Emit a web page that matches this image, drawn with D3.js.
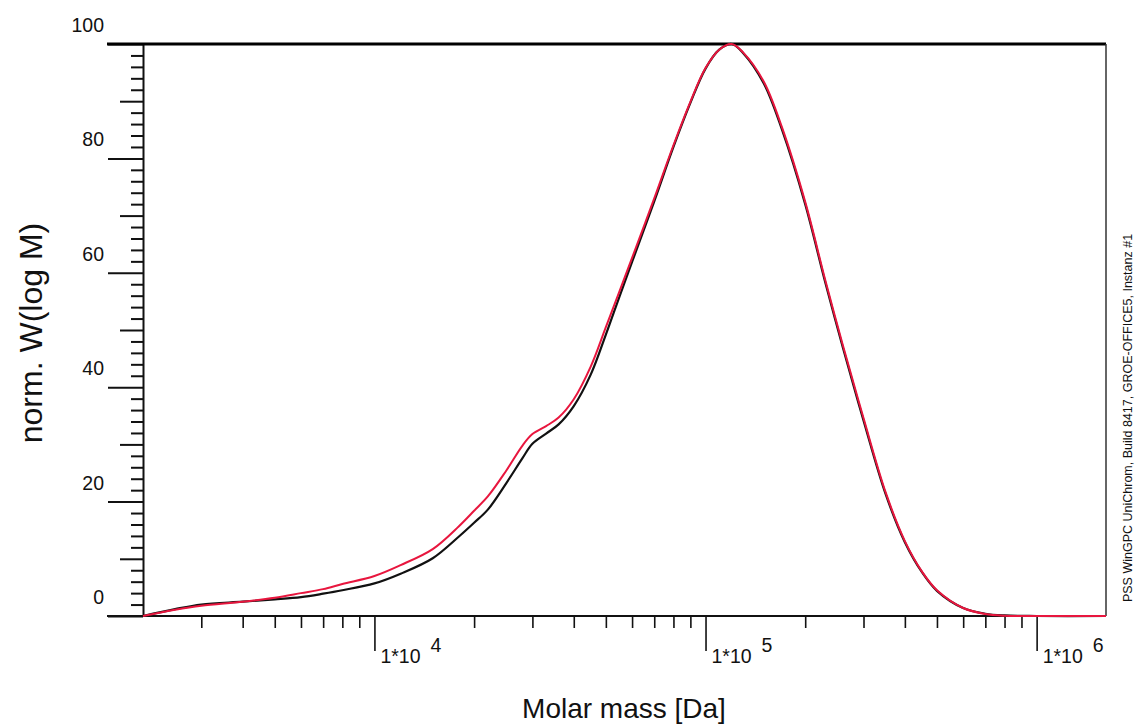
<!DOCTYPE html>
<html>
<head>
<meta charset="utf-8">
<script src="https://cdn.jsdelivr.net/npm/d3@7"></script>
<style>
  html, body { margin: 0; padding: 0; background: #fff; }
  #chart { width: 1139px; height: 724px; }
  text { font-family: "Liberation Sans", Arial, sans-serif; fill: #111; }
</style>
</head>
<body>
<div id="chart"></div>
<script>
// molar mass grid [Da] and the two normalized distributions
const molarMass = [2000, 2500, 3000, 4000, 5000, 6000, 7000, 8000, 10000, 12000, 15000, 18000, 20000, 22000,
  25000, 28000, 30000, 33000, 36000, 40000, 45000, 50000, 55000, 60000, 70000, 80000, 90000, 100000,
  110000, 120000, 130000, 150000, 170000, 200000, 230000, 260000, 300000, 350000, 400000, 450000,
  500000, 600000, 700000, 800000, 1000000, 1620000];
const blackW = [0, 1.2, 2.0, 2.5, 2.9, 3.3, 3.9, 4.5, 5.7, 7.4, 10.1, 13.9, 16.3, 18.6,
  23.2, 27.6, 30.1, 31.9, 33.5, 36.7, 42.2, 49.2, 55.9, 61.9, 72.5, 82.0, 89.7, 95.7,
  99.0, 100, 98.4, 93.1, 85.1, 72.0, 58.3, 46.9, 34.2, 21.3, 12.9, 7.7,
  4.4, 1.4, 0.4, 0.1, 0, 0];
const redW = [0, 1.1, 1.8, 2.5, 3.2, 4.0, 4.7, 5.6, 7.0, 8.9, 11.7, 15.7, 18.4, 20.9,
  25.4, 29.8, 31.8, 33.2, 34.7, 37.9, 43.6, 50.5, 56.8, 62.6, 73.0, 82.3, 89.9, 95.8,
  99.0, 100, 98.5, 93.4, 85.5, 72.4, 58.7, 47.3, 34.6, 21.6, 13.1, 7.8,
  4.5, 1.4, 0.35, 0.05, 0, 0];

const yLabels = [0, 20, 40, 60, 80, 100];
const decades = [1e4, 1e5, 1e6];
const exponents = ['4', '5', '6'];
const minorMass = [3000, 4000, 5000, 6000, 7000, 8000, 9000,
  20000, 30000, 40000, 50000, 60000, 70000, 80000, 90000,
  200000, 300000, 400000, 500000, 600000, 700000, 800000, 900000];
const footer = 'PSS WinGPC UniChrom, Build 8417, GROE-OFFICE5, Instanz #1';

const W = 1139, H = 724;
const svg = d3.select('#chart').append('svg').attr('width', W).attr('height', H);

const x = d3.scaleLog().domain([2000, 1620000]).range([143, 1106]);
const y = d3.scaleLinear().domain([0, 100]).range([616, 44]);

// y axis: minor every 2, medium every 10, long every 20
const yAxis = svg.append('g').attr('transform', `translate(${x.range()[0]},0)`)
  .call(d3.axisLeft(y).tickValues(d3.range(0, 101, 2)).tickFormat('').tickSizeOuter(0));
yAxis.select('.domain').attr('stroke', '#111').attr('stroke-width', 2);
yAxis.selectAll('.tick line')
  .attr('stroke', '#111').attr('stroke-width', 2)
  .attr('x2', d => d % 20 === 0 ? -35 : d % 10 === 0 ? -23 : -12);

svg.append('g').selectAll('text').data(yLabels).enter().append('text')
  .attr('x', 104).attr('y', d => y(d) - 12)
  .attr('text-anchor', 'end').attr('font-size', 19.5)
  .text(d => d);

// x axis
const xAxis = svg.append('g').attr('transform', `translate(0,${y(0)})`)
  .call(d3.axisBottom(x).tickValues(minorMass.concat(decades)).tickFormat('').tickSizeOuter(0));
xAxis.select('.domain').remove();
xAxis.selectAll('.tick line')
  .attr('stroke', '#111').attr('stroke-width', 1.6)
  .attr('y2', d => decades.includes(d) ? 35 : 12);

svg.append('line').attr('x1', 107).attr('x2', 1106).attr('y1', y(0)).attr('y2', y(0))
  .attr('stroke', '#111').attr('stroke-width', 2);
svg.append('line').attr('x1', 107).attr('x2', 1106).attr('y1', y(100)).attr('y2', y(100))
  .attr('stroke', '#000').attr('stroke-width', 3);
svg.append('line').attr('x1', 1106).attr('x2', 1106).attr('y1', y(100)).attr('y2', y(0))
  .attr('stroke', '#333').attr('stroke-width', 1.5);

const dec = svg.append('g').selectAll('g').data(decades).enter().append('g')
  .attr('transform', d => `translate(${x(d)},0)`);
dec.append('text').attr('x', 6).attr('y', 663).attr('font-size', 19.5).text('1*10');
dec.append('text').attr('x', 56).attr('y', 652).attr('font-size', 19.5).text((d, i) => exponents[i]);

// curves
const line = d3.line().x((d, i) => x(molarMass[i])).y(d => y(d)).curve(d3.curveCatmullRom.alpha(0.5));
svg.append('path').datum(blackW).attr('d', line)
  .attr('fill', 'none').attr('stroke', '#111').attr('stroke-width', 2.2);
svg.append('path').datum(redW).attr('d', line)
  .attr('fill', 'none').attr('stroke', '#e8163e').attr('stroke-width', 2);

// titles
svg.append('text').attr('x', 624).attr('y', 718).attr('text-anchor', 'middle')
  .attr('font-size', 28).text('Molar mass [Da]');
svg.append('text').attr('transform', 'translate(42,333) rotate(-90)')
  .attr('text-anchor', 'middle').attr('font-size', 32).text('norm. W(log M)');
svg.append('text').attr('transform', 'translate(1132,418) rotate(-90)')
  .attr('text-anchor', 'middle').attr('font-size', 12.5).attr('fill', '#333').text(footer);
</script>
</body>
</html>
